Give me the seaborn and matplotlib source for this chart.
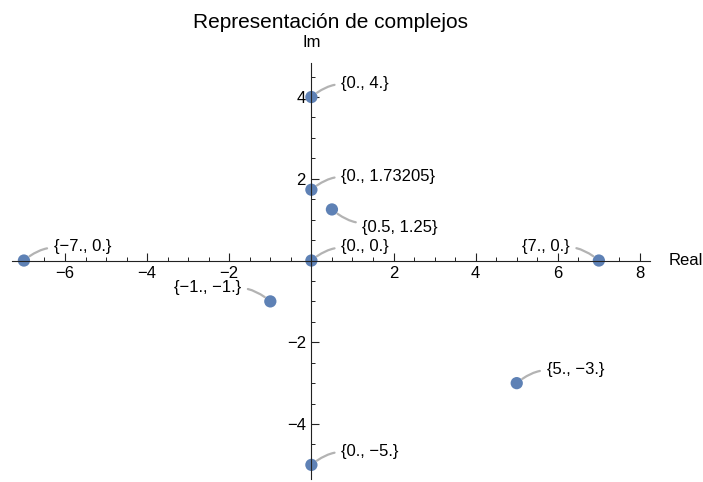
import matplotlib
matplotlib.use("Agg")
import matplotlib.pyplot as plt
from matplotlib.ticker import MultipleLocator
import pandas as pd
import seaborn as sns

# Complex numbers as (real, imaginary) pairs
re_part = [-7.0, -1.0, 0.0, 0.0, 0.0, 0.0, 0.5, 5.0, 7.0]
im_part = [0.0, -1.0, 0.0, 1.73205, 4.0, -5.0, 1.25, -3.0, 0.0]
point_labels = ["{−7., 0.}", "{−1., −1.}", "{0., 0.}", "{0., 1.73205}", "{0., 4.}",
                "{0., −5.}", "{0.5, 1.25}", "{5., −3.}", "{7., 0.}"]
# callout side for each label: upper-right, upper-left, lower-right
label_side = ["ur", "ul", "ur", "ur", "ur", "ur", "lr", "ur", "ul"]

x_ticks = [-6, -4, -2, 2, 4, 6, 8]
x_tick_labels = ["−6", "−4", "−2", "2", "4", "6", "8"]
y_ticks = [-4, -2, 2, 4]
y_tick_labels = ["−4", "−2", "2", "4"]

sns.set_style("white")
plt.rcParams["font.family"] = ["Liberation Sans", "DejaVu Sans"]
plt.rcParams["text.color"] = "black"
plt.rcParams["xtick.color"] = "black"
plt.rcParams["ytick.color"] = "black"

W, H = 703, 482
fig = plt.figure(figsize=(W / 100, H / 100), dpi=100)
ax = fig.add_axes([11.6 / W, (H - 479.2) / H, 638.6 / W, 416.5 / H])
ax.set_xlim(-7.3, 8.25)
ax.set_ylim(-5.35, 4.84)
ax.patch.set_visible(False)

df = pd.DataFrame({"Real": re_part, "Im": im_part})
sns.scatterplot(data=df, x="Real", y="Im", ax=ax, color="#5e81b5", s=78,
                edgecolor="none", clip_on=False, legend=False)
ax.set_xlabel("")
ax.set_ylabel("")

# axes crossing at the origin
for side in ["top", "right"]:
    ax.spines[side].set_visible(False)
ax.spines["left"].set_position(("data", 0))
ax.spines["bottom"].set_position(("data", 0))
for side in ["left", "bottom"]:
    ax.spines[side].set_linewidth(0.8)
    ax.spines[side].set_color("#222222")

ax.set_xticks(x_ticks, labels=x_tick_labels)
ax.set_yticks(y_ticks, labels=y_tick_labels)
ax.xaxis.set_minor_locator(MultipleLocator(0.5))
ax.yaxis.set_minor_locator(MultipleLocator(0.5))
ax.tick_params(which="both", bottom=True, left=True, top=False, right=False)
ax.tick_params(which="major", direction="in", length=5.5, width=0.8,
               color="#222222", labelcolor="black", labelsize=12, pad=4)
ax.tick_params(which="minor", direction="in", length=3, width=0.7, color="#222222")

# callouts with curved grey leaders
offsets = {"ur": (21.5, 9.8), "ul": (-21.0, 10.0), "lr": (22.0, -13.0)}
leader_angle = {"ur": 40, "ul": 140, "lr": -40}
attach = {"ur": (0.0, 0.45), "ul": (1.0, 0.45), "lr": (0.0, 0.8)}
for x, y, txt, side in zip(re_part, im_part, point_labels, label_side):
    dx, dy = offsets[side]
    ax.annotate(txt, xy=(x, y), xytext=(dx, dy), textcoords="offset points",
                ha="left" if dx > 0 else "right", va="center", fontsize=12,
                color="black", annotation_clip=False,
                arrowprops=dict(arrowstyle="-", color="#b3b3b3", lw=1.6,
                                shrinkA=2.5, shrinkB=5,
                                relpos=attach[side],
                                connectionstyle=f"angle3,angleA=0,angleB={leader_angle[side]}"))

# axis names
ax.annotate("Im", xy=(0, 4.84), xytext=(0, 11.5), textcoords="offset points",
            ha="center", va="baseline", fontsize=12, color="black", annotation_clip=False)
ax.annotate("Real", xy=(8.25, 0), xytext=(13, 0), textcoords="offset points",
            ha="left", va="center", fontsize=12, color="black", annotation_clip=False)

fig.text((11.6 + 638.6 / 2) / W, 1 - 28.3 / H, "Representación de complejos",
         ha="center", va="baseline", fontsize=15, color="black")

fig.savefig("out.png", dpi=100)
